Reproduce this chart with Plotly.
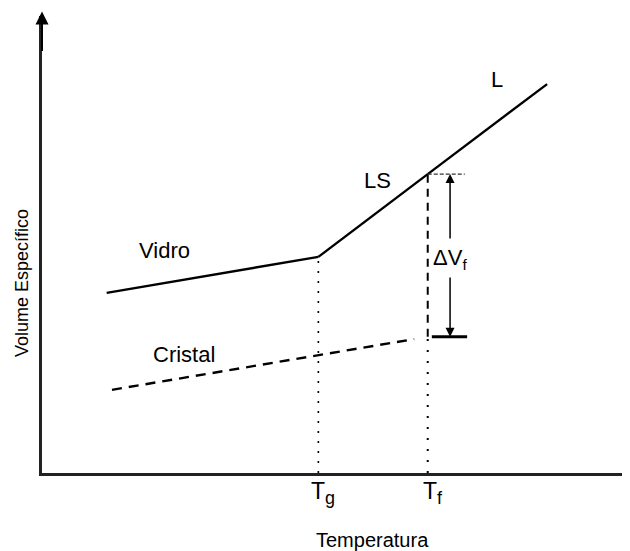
import plotly.graph_objects as go

# --- data (arbitrary units: temperature 0..100, specific volume 0..100) ---
vidro_T = [11.0, 47.0]
vidro_V = [39.4, 47.3]
ls_T = [47.0, 65.6]
ls_V = [47.3, 65.4]
l_T = [65.6, 85.9]
l_V = [65.4, 85.1]
cristal_T = [11.9, 63.3]
cristal_V = [18.2, 29.3]
Tg = 47.0
Tf = 65.6
V_liq_Tf = 65.4
V_crist_Tf = 29.8
tick_vals = [Tg, Tf]
tick_text = ["T<sub><span style='font-size:18px'>g</span></sub>",
             "T<sub><span style='font-size:18px'>f</span></sub>"]
curve_labels = ["Vidro", "Cristal", "LS", "L"]
curve_label_T = [20.9, 24.1, 57.1, 77.4]
curve_label_V = [48.6, 26.0, 63.9, 86.0]

FONT = "Liberation Sans, Arial, sans-serif"
fig = go.Figure()

def line(x, y, width=2.4, dash="solid", color="black"):
    fig.add_trace(go.Scatter(x=x, y=y, mode="lines", hoverinfo="skip",
                             line=dict(color=color, width=width, dash=dash)))

line(vidro_T, vidro_V)
line(ls_T, ls_V)
line(l_T, l_V)
line(cristal_T, cristal_V, 2.4, dash="10px,7px")
# Tg dotted
line([Tg, Tg], [0, vidro_V[1]], 1.6, dash="2px,8px")
# Tf dashed above crystal, dotted below
line([Tf, Tf], [V_crist_Tf, V_liq_Tf], 2, dash="8px,6px")
line([Tf, Tf], [0, V_crist_Tf], 2, dash="2px,9px")
# top dashed tick and bottom bar for delta V
line([Tf, 71.9], [V_liq_Tf, V_liq_Tf], 1.2, dash="4px,2px", color="#333")
line([66.3, 72.3], [V_crist_Tf, V_crist_Tf], 3)

arrow_x = 69.4
ann = []
ann.append(dict(x=arrow_x, y=V_liq_Tf, ax=arrow_x, ay=51.0, xref="x", yref="y",
                axref="x", ayref="y", showarrow=True, arrowhead=2, arrowsize=1.2,
                arrowwidth=1.5, arrowcolor="black", text=""))
ann.append(dict(x=arrow_x, y=V_crist_Tf, ax=arrow_x, ay=43.1, xref="x", yref="y",
                axref="x", ayref="y", showarrow=True, arrowhead=2, arrowsize=1.2,
                arrowwidth=1.5, arrowcolor="black", text=""))
ann.append(dict(x=arrow_x, y=46.8, xref="x", yref="y", showarrow=False,
                text="ΔV<sub>f</sub>", font=dict(size=22, color="black", family=FONT)))
# y axis arrow head
ann.append(dict(x=0, y=101, ax=0, ay=92, xref="x", yref="y", axref="x", ayref="y",
                showarrow=True, arrowhead=2, arrowsize=1.3, arrowwidth=2,
                arrowcolor="black", text=""))
for t, xv, yv in zip(curve_labels, curve_label_T, curve_label_V):
    ann.append(dict(x=xv, y=yv, xref="x", yref="y", showarrow=False, text=t,
                    font=dict(size=22, color="black", family=FONT)))
for tv, tt in zip(tick_vals, tick_text):
    ann.append(dict(x=tv, y=0, xref="x", yref="paper", yanchor="top", xanchor="center",
                    xshift=5, yshift=-3, showarrow=False, text=tt,
                    font=dict(size=23, color="black", family=FONT)))

# page has an 8px body margin: size the figure so its plot area sits where the reference's does
OFF = 8
W, H = 630 - OFF, 551 - OFF
L, R, T, B = 34, 0, 8, 78
pw, ph = W - L - R, H - T - B

def px_to_paper(px, py):
    return (px - OFF - L) / pw, (H + OFF - B - py) / ph

tx, ty = px_to_paper(372, 540)
ann.append(dict(x=tx, y=ty, xref="paper", yref="paper", xanchor="center", yanchor="middle",
                showarrow=False, text="Temperatura",
                font=dict(size=20, color="black", family=FONT)))
vx, vy = px_to_paper(22, 283)
ann.append(dict(x=vx, y=vy, xref="paper", yref="paper", xanchor="center", yanchor="middle",
                showarrow=False, text="Volume Específico", textangle=-90,
                font=dict(size=18, color="black", family=FONT)))

fig.update_layout(
    width=W, height=H, margin=dict(l=L, r=R, t=T, b=B),
    paper_bgcolor="white", plot_bgcolor="white", showlegend=False,
    annotations=ann,
    xaxis=dict(range=[0, 100], showgrid=False, zeroline=False, showline=True,
               linecolor="#222", linewidth=2.5, tickvals=tick_vals, ticktext=["", ""],
               ticks="", fixedrange=True),
    yaxis=dict(range=[0, 100], showgrid=False, zeroline=False, showline=True,
               linecolor="#222", linewidth=2.5, showticklabels=False, ticks="",
               fixedrange=True),
)
fig.write_html("out.html")
